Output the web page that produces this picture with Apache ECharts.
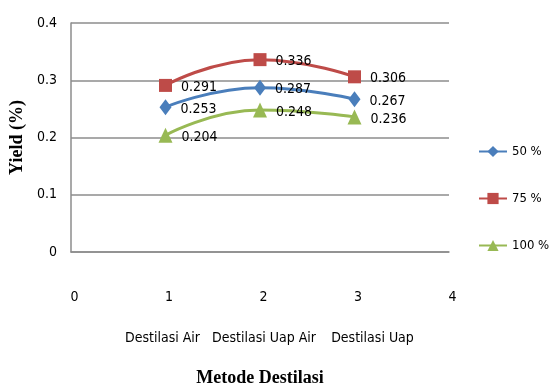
<!DOCTYPE html>
<html>
<head>
<meta charset="utf-8">
<script src="https://cdn.jsdelivr.net/npm/echarts@6/dist/echarts.min.js"></script>
<style>
  html, body { margin: 0; padding: 0; background: #fff; }
  #chart { width: 549px; height: 390px; }
</style>
</head>
<body>
<div id="chart"></div>
<script>
// Yield per distillation method at three concentrations
const xPositions = [1, 2, 3];
const methods = ['Destilasi Air', 'Destilasi Uap Air', 'Destilasi Uap'];
const yield50 = [0.253, 0.287, 0.267];
const yield75 = [0.291, 0.336, 0.306];
const yield100 = [0.204, 0.248, 0.236];
const seriesNames = ['50 %', '75 %', '100 %'];
const yTicks = [0, 0.1, 0.2, 0.3, 0.4];

const narrow = "'Liberation Sans Narrow', 'DejaVu Sans Condensed', 'Arial Narrow', sans-serif";
const serif = "'Liberation Serif', 'DejaVu Serif', serif";

function pairs(values) {
  return xPositions.map((x, i) => [x, values[i]]);
}

function lineSeries(name, values, color, symbol, size) {
  return {
    name: name,
    type: 'line',
    smooth: true,
    data: pairs(values),
    symbol: symbol,
    symbolSize: size,
    lineStyle: { color: color, width: 3 },
    itemStyle: { color: color },
    label: {
      show: true,
      position: 'right',
      distance: 9,
      offset: [0, 2],
      color: '#000',
      fontFamily: narrow,
      fontSize: 14,
      formatter: p => p.value[1].toFixed(3)
    },
    z: 3
  };
}

// method names sit in a text row under the numeric ticks, nudged apart
const methodRich = {
  m1: { fontFamily: narrow, fontSize: 14, color: '#000', padding: [0, 6, 0, 0] },
  m2: { fontFamily: narrow, fontSize: 14, color: '#000', padding: [0, 0, 0, 8] },
  m3: { fontFamily: narrow, fontSize: 14, color: '#000', padding: [0, 0, 0, 36] }
};

const chart = echarts.init(document.getElementById('chart'), null, { renderer: 'canvas' });
chart.setOption({
  backgroundColor: '#fff',
  animation: false,
  grid: { left: 71, right: 100, top: 23, bottom: 138, outerBoundsMode: 'none', containLabel: false },
  legend: {
    orient: 'vertical',
    left: 478,
    top: 145,
    padding: 0,
    itemWidth: 28,
    itemHeight: 14,
    itemGap: 34,
    textStyle: { fontFamily: narrow, fontSize: 13, color: '#000' },
    data: seriesNames
  },
  xAxis: [
    {
      type: 'value',
      min: 0, max: 4, interval: 1,
      axisLine: { show: true, lineStyle: { color: '#8c8c8c', width: 1.5 } },
      axisTick: { show: false },
      splitLine: { show: false },
      axisLabel: {
        margin: 38, color: '#000', fontFamily: narrow, fontSize: 14,
        padding: [0, 0, 0, 7]
      },
      name: 'Metode Destilasi',
      nameLocation: 'middle',
      nameGap: 117,
      nameTextStyle: { fontFamily: serif, fontWeight: 'bold', fontSize: 18, color: '#000' }
    },
    {
      type: 'value',
      position: 'bottom',
      min: 0, max: 4, interval: 1,
      axisLine: { show: false },
      axisTick: { show: false },
      splitLine: { show: false },
      axisLabel: {
        margin: 79,
        showMinLabel: true,
        showMaxLabel: true,
        formatter: v => (v >= 1 && v <= 3 ? '{m' + v + '|' + methods[v - 1] + '}' : ''),
        rich: methodRich
      }
    }
  ],
  yAxis: {
    type: 'value',
    min: yTicks[0], max: yTicks[yTicks.length - 1], interval: 0.1,
    axisLine: { show: true, lineStyle: { color: '#8c8c8c', width: 1.5 } },
    axisTick: { show: false },
    splitLine: { show: true, lineStyle: { color: '#8c8c8c', width: 1.5 } },
    axisLabel: {
      margin: 14,
      color: '#000',
      fontFamily: narrow,
      fontSize: 14,
      formatter: v => (v === 0 ? '0' : v.toFixed(1))
    },
    name: 'Yield (%)',
    nameLocation: 'middle',
    nameGap: 43,
    nameRotate: 90,
    nameTextStyle: { fontFamily: serif, fontWeight: 'bold', fontSize: 18, color: '#000' }
  },
  series: [
    lineSeries(seriesNames[0], yield50, '#4a7ebb', 'diamond', [12, 16]),
    lineSeries(seriesNames[1], yield75, '#be4b48', 'rect', 13),
    lineSeries(seriesNames[2], yield100, '#98b954', 'triangle', [14, 15])
  ]
});
</script>
</body>
</html>
